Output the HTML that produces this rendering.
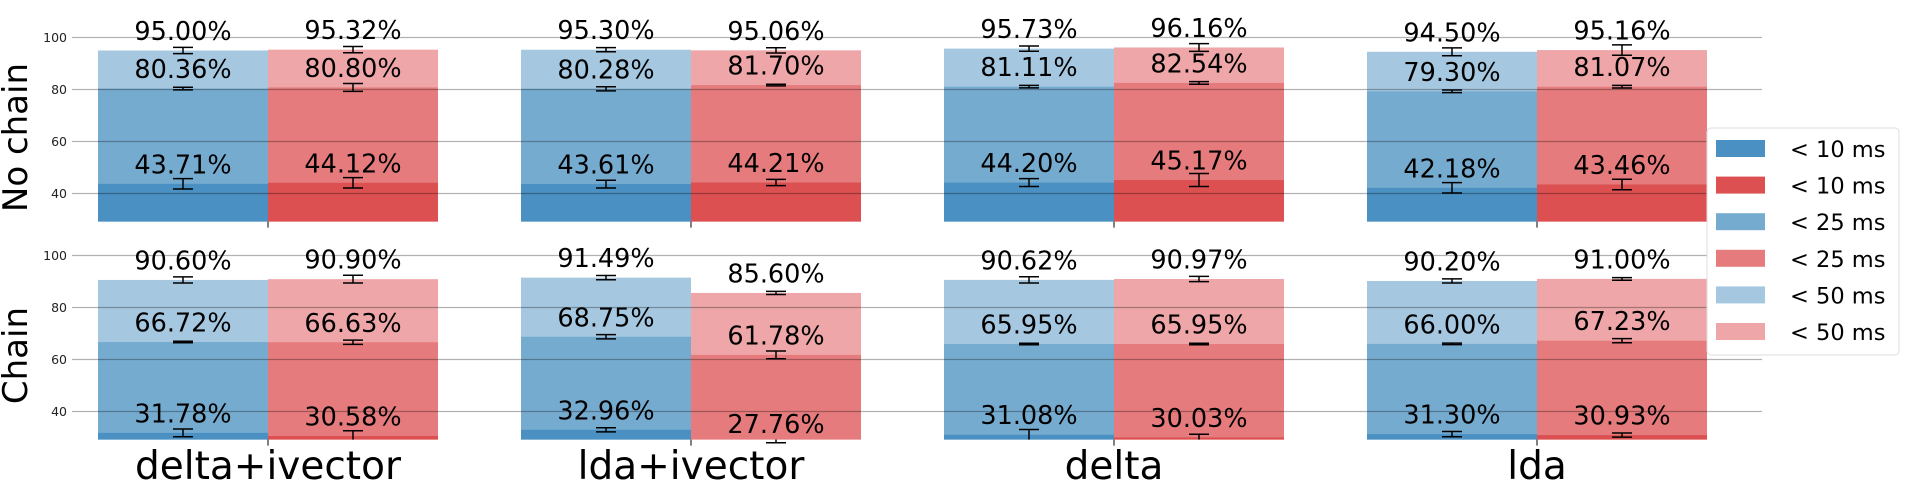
<!DOCTYPE html>
<html><head><meta charset="utf-8"><style>
body{margin:0;background:#fff;}
svg{display:block;font-family:"DejaVu Sans","Liberation Sans",sans-serif;}
</style></head><body>
<svg id="c" width="1918" height="488" xmlns="http://www.w3.org/2000/svg"></svg>
<script>
const categories=["delta+ivector","lda+ivector","delta","lda"];
const thresholds=["< 10 ms","< 25 ms","< 50 ms"];
const panels=["No chain","Chain"];
const blueNoChain=[[43.71,80.36,95.00],[43.61,80.28,95.30],[44.20,81.11,95.73],[42.18,79.30,94.50]];
const redNoChain=[[44.12,80.80,95.32],[44.21,81.70,95.06],[45.17,82.54,96.16],[43.46,81.07,95.16]];
const blueChain=[[31.78,66.72,90.60],[32.96,68.75,91.49],[31.08,65.95,90.62],[31.30,66.00,90.20]];
const redChain=[[30.58,66.63,90.90],[27.76,61.78,85.60],[30.03,65.95,90.97],[30.93,67.23,91.00]];
const errBlueNoChain=[[2,0.5,1.2],[1.5,0.8,0.8],[1.5,0.5,1],[2,0.5,1.5]];
const errRedNoChain=[[2,1.5,1.2],[1.2,0.3,1],[2.5,0.5,1.5],[2,0.5,2]];
const errBlueChain=[[1.5,0.3,1.2],[0.8,0.8,0.8],[2,0.3,1.2],[1,0.3,0.8]];
const errRedChain=[[2,0.8,1.5],[0.2,1.5,0.6],[1.2,0.3,1],[0.8,0.8,0.5]];
const yTicks=[40,60,80,100];

const svg=document.getElementById('c');
const NS="http://www.w3.org/2000/svg";
function mk(t,a,p){const e=document.createElementNS(NS,t);for(const k in a)e.setAttribute(k,a[k]);(p||svg).appendChild(e);return e;}
const blues=["#4a90c2","#76abd0","#a5c8e0"],reds=["#dc5052","#e57b7c","#eea6a8"];
const panelTop=[37.5,255.5];
const yMin=29.2,pxPer=2.6;
const gx0=72,gx1=1762;
function xCenter(i){return 268+i*423;}
const barW=170;
const data=[[blueNoChain,redNoChain,errBlueNoChain,errRedNoChain],[blueChain,redChain,errBlueChain,errRedChain]];
for(let p=0;p<2;p++){
  const y=v=>panelTop[p]+(100-v)*pxPer;
  const base=y(yMin);
  const g=mk('g',{});
  
  
  const [B,R,EB,ER]=data[p];
  for(let i=0;i<categories.length;i++){
    [[B,EB,blues,-1],[R,ER,reds,0]].forEach(([S,E,col,off])=>{
      const x=xCenter(i)+off*barW;
      for(let k=2;k>=0;k--){
        const v=S[i][k];
        const top=Math.max(y(v),0);
        if(y(v)<base){
          const r=mk('rect',{x:x,y:top,width:barW,height:base-top,fill:col[k]},g);
          
          
        }
      }
    });
  }
  yTicks.forEach(t=>{
    const l=mk('line',{x1:gx0,x2:gx1,y1:y(t),y2:y(t),stroke:'rgba(0,0,0,0.3)','stroke-width':1.3},g);
    
    
    const tl=mk('text',{x:67,y:y(t)+4.5,'text-anchor':'end','font-size':12.5,fill:'#222'},g);
    tl.textContent=t;
    
    
  });
  for(let i=0;i<categories.length;i++){
    mk('line',{x1:xCenter(i),x2:xCenter(i),y1:base,y2:base+6,stroke:'#000','stroke-width':1},g);
    [[B,EB,-1],[R,ER,0]].forEach(([S,E,off])=>{
      const cx=xCenter(i)+off*barW+barW/2;
      for(let k=0;k<3;k++){
        const v=S[i][k],e=E[i][k];
        const y1=Math.min(y(v-e),base),y2=y(v+e);
        mk('line',{x1:cx,x2:cx,y1:y1,y2:y2,stroke:'#000','stroke-width':1.5},g);
        if(y(v-e)<=base) mk('line',{x1:cx-10,x2:cx+10,y1:y1,y2:y1,stroke:'#000','stroke-width':1.5},g);
        mk('line',{x1:cx-10,x2:cx+10,y1:y2,y2:y2,stroke:'#000','stroke-width':1.5},g);
        const t=mk('text',{x:cx,y:y(v)-10.5,'text-anchor':'middle','font-size':25.5,fill:'#000'},g);
        t.textContent=v.toFixed(2)+'%';
        
        
      }
    });
  }
  const yl=mk('text',{x:0,y:0,'text-anchor':'middle','font-size':34,fill:'#000',transform:`translate(27,${(panelTop[p]+base)/2+8}) rotate(-90)`},g);
  yl.textContent=panels[p];
  
  
}
categories.forEach((c,i)=>{
  const t=mk('text',{x:xCenter(i),y:479,'text-anchor':'middle','font-size':39,fill:'#000'});
  t.textContent=c;
  
  
});
const lg=mk('g',{});


mk('rect',{x:1707,y:128,width:192,height:227,rx:4,fill:'#fff',stroke:'#ddd','stroke-width':1},lg);
const legCols=[blues[0],reds[0],blues[1],reds[1],blues[2],reds[2]];
const legLab=[thresholds[0],thresholds[0],thresholds[1],thresholds[1],thresholds[2],thresholds[2]];
for(let j=0;j<6;j++){
  const yy=140+j*36.6;
  const r=mk('rect',{x:1716,y:yy,width:49,height:17,fill:legCols[j]},lg);
  
  
  const t=mk('text',{x:1790,y:yy+17,'font-size':22.5,fill:'#000'},lg);
  t.textContent=legLab[j];
  
  
}
</script>
</body></html>
